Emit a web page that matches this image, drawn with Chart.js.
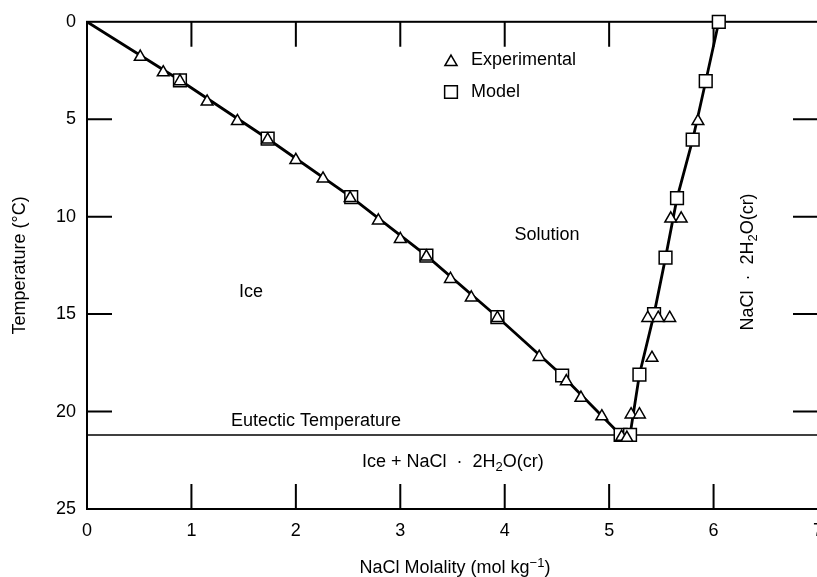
<!DOCTYPE html>
<html>
<head>
<meta charset="utf-8">
<script src="https://cdn.jsdelivr.net/npm/chart.js@4.4.1/dist/chart.umd.min.js"></script>
<style>
  html, body { margin: 0; padding: 0; background: #fff; overflow: hidden; }
  #wrap { position: relative; width: 840px; height: 577px; }
</style>
</head>
<body>
<div id="wrap"><canvas id="phaseChart"></canvas></div>
<script>
// axis ticks
const xTicks = [0, 1, 2, 3, 4, 5, 6, 7];
const yTicks = [0, 5, 10, 15, 20, 25];
const eutecticT = 21.2;

// experimental points [molality, temperature below 0 °C]
const expIce = [
  [0.51, 1.8], [0.73, 2.6], [0.89, 3.05], [1.15, 4.1], [1.44, 5.1], [1.73, 6.05],
  [2.0, 7.1], [2.26, 8.05], [2.52, 9.05], [2.79, 10.2], [3.0, 11.15], [3.25, 12.05],
  [3.48, 13.2], [3.68, 14.15], [3.93, 15.2], [4.33, 17.2], [4.59, 18.45],
  [4.73, 19.3], [4.93, 20.25], [5.12, 21.3]
];
const expSalt = [
  [5.17, 21.35], [5.21, 20.15], [5.29, 20.15], [5.41, 17.25], [5.37, 15.2],
  [5.47, 15.2], [5.58, 15.2], [5.59, 10.1], [5.69, 10.1], [5.85, 5.1]
];

// model points
const modelIce = [
  [0.89, 3.0], [1.73, 6.0], [2.53, 9.0], [3.25, 12.0], [3.93, 15.15],
  [4.55, 18.15], [5.11, 21.2]
];
const modelSalt = [
  [5.2, 21.2], [5.29, 18.1], [5.43, 15.0], [5.54, 12.1], [5.65, 9.05],
  [5.80, 6.05], [5.925, 3.05], [6.05, 0]
];

const toXY = arr => arr.map(p => ({ x: p[0], y: p[1] }));
const FONT = '"Liberation Sans", Arial, Helvetica, sans-serif';

// draw text made of normal / sub / sup parts
function drawRich(ctx, parts, x, y, align) {
  const big = '18px ' + FONT, small = '13px ' + FONT;
  let total = 0;
  parts.forEach(p => {
    ctx.font = p.sub || p.sup ? small : big;
    p.w = ctx.measureText(p.t).width;
    total += p.w;
  });
  let cx = align === 'center' ? x - total / 2 : x;
  ctx.textAlign = 'left';
  ctx.textBaseline = 'middle';
  parts.forEach(p => {
    ctx.font = p.sub || p.sup ? small : big;
    const dy = p.sub ? 5 : (p.sup ? -5 : 0);
    ctx.fillText(p.t, cx, y + dy);
    cx += p.w;
  });
}

const framePlugin = {
  id: 'frame',
  beforeDatasetsDraw(chart) {
    const { ctx, chartArea: a, scales: { x, y } } = chart;
    ctx.save();
    ctx.strokeStyle = '#000';
    ctx.lineWidth = 2;
    ctx.strokeRect(a.left, a.top, a.right - a.left, a.bottom - a.top);
    const len = 25;
    ctx.beginPath();
    xTicks.slice(1, -1).forEach(v => {
      const px = x.getPixelForValue(v);
      ctx.moveTo(px, a.bottom); ctx.lineTo(px, a.bottom - len);
      ctx.moveTo(px, a.top); ctx.lineTo(px, a.top + len);
    });
    yTicks.slice(1, -1).forEach(v => {
      const py = y.getPixelForValue(v);
      ctx.moveTo(a.left, py); ctx.lineTo(a.left + len, py);
      ctx.moveTo(a.right, py); ctx.lineTo(a.right - len, py);
    });
    ctx.stroke();
    ctx.restore();
  },
  afterDraw(chart) {
    const { ctx } = chart;
    ctx.save();
    ctx.fillStyle = '#000';
    ctx.font = '18px ' + FONT;
    ctx.textBaseline = 'middle';
    ctx.textAlign = 'center';
    ctx.fillText('Solution', 547, 235);
    ctx.fillText('Ice', 251, 292);
    ctx.textAlign = 'left';
    ctx.fillText('Eutectic Temperature', 231, 421);
    drawRich(ctx, [{ t: 'Ice + NaCl  \u00b7  2H' }, { t: '2', sub: true }, { t: 'O(cr)' }], 362, 462, 'left');

    // vertical salt label
    ctx.save();
    ctx.translate(748, 262);
    ctx.rotate(-Math.PI / 2);
    drawRich(ctx, [{ t: 'NaCl  \u00b7  2H' }, { t: '2', sub: true }, { t: 'O(cr)' }], 0, 0, 'center');
    ctx.restore();

    // x axis title
    drawRich(ctx, [{ t: 'NaCl Molality (mol kg' }, { t: '\u22121', sup: true }, { t: ')' }], 455, 568, 'center');

    // legend
    ctx.strokeStyle = '#000';
    ctx.fillStyle = '#fff';
    ctx.lineWidth = 1.5;
    Chart.helpers.drawPoint(ctx, { pointStyle: 'triangle', radius: 7, borderWidth: 1.5 }, 451, 62);
    Chart.helpers.drawPoint(ctx, { pointStyle: 'rect', radius: 9, borderWidth: 1.5 }, 451, 92);
    ctx.fillStyle = '#000';
    ctx.font = '18px ' + FONT;
    ctx.textAlign = 'left';
    ctx.fillText('Experimental', 471, 60);
    ctx.fillText('Model', 471, 92);
    ctx.restore();
  }
};

const markerBase = {
  showLine: false,
  borderColor: '#000',
  backgroundColor: '#fff',
  borderWidth: 1.5,
  pointBorderWidth: 1.5,
  clip: false
};
const lineBase = {
  showLine: true,
  borderColor: '#000',
  pointRadius: 0,
  tension: 0,
  fill: false
};

new Chart(document.getElementById('phaseChart'), {
  type: 'scatter',
  data: {
    datasets: [
      Object.assign({}, markerBase, {
        label: 'Experimental',
        data: toXY(expIce.concat(expSalt)),
        pointStyle: 'triangle',
        pointRadius: 6.8,
        order: 0
      }),
      Object.assign({}, markerBase, {
        label: 'Model',
        data: toXY(modelIce.concat(modelSalt)),
        pointStyle: 'rect',
        pointRadius: 9,
        order: 1
      }),
      Object.assign({}, lineBase, {
        label: 'Ice curve',
        data: toXY([[0, 0]].concat(modelIce)),
        borderWidth: 2.8,
        order: 2
      }),
      Object.assign({}, lineBase, {
        label: 'Solubility curve',
        data: toXY(modelSalt),
        borderWidth: 2.8,
        order: 2
      }),
      Object.assign({}, lineBase, {
        label: 'Eutectic',
        data: toXY([[0, eutecticT], [7, eutecticT]]),
        borderWidth: 1.6,
        order: 3
      })
    ]
  },
  options: {
    responsive: true,
    maintainAspectRatio: false,
    animation: false,
    layout: { padding: { top: 18, right: 22, bottom: 0, left: 0 } },
    plugins: {
      legend: { display: false },
      tooltip: { enabled: false }
    },
    scales: {
      x: {
        type: 'linear',
        min: 0,
        max: 7,
        afterBuildTicks: s => { s.ticks = xTicks.map(v => ({ value: v })); },
        ticks: { color: '#000', font: { family: FONT, size: 18 }, padding: 11, maxRotation: 0 },
        grid: { display: false, drawTicks: false },
        border: { display: false },
        afterFit: s => { s.height = 68; }
      },
      y: {
        type: 'linear',
        reverse: true,
        min: 0,
        max: 25,
        afterBuildTicks: s => { s.ticks = yTicks.map(v => ({ value: v })); },
        ticks: { color: '#000', font: { family: FONT, size: 18 }, padding: 11 },
        grid: { display: false, drawTicks: false },
        border: { display: false },
        title: {
          display: true,
          text: 'Temperature (\u00b0C)',
          color: '#000',
          font: { family: FONT, size: 18 },
          padding: { top: 9, bottom: 0 }
        },
        afterFit: s => { s.width = 87; }
      }
    }
  },
  plugins: [framePlugin]
});
</script>
</body>
</html>
